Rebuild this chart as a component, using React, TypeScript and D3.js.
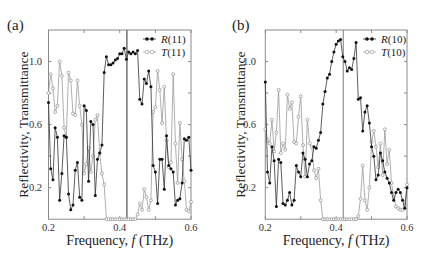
import React from "react";
import * as d3 from "d3";

const FREQ = [0.2,0.20625,0.2125,0.21875,0.225,0.23125,0.2375,0.24375,0.25,0.25625,0.2625,0.26875,0.275,0.28125,0.2875,0.29375,0.3,0.30625,0.3125,0.31875,0.325,0.33125,0.3375,0.34375,0.35,0.35625,0.3625,0.36875,0.375,0.38125,0.3875,0.39375,0.4,0.40625,0.4125,0.41875,0.425,0.43125,0.4375,0.44375,0.45,0.45625,0.4625,0.46875,0.475,0.48125,0.4875,0.49375,0.5,0.50625,0.5125,0.51875,0.525,0.53125,0.5375,0.54375,0.55,0.55625,0.5625,0.56875,0.575,0.58125,0.5875,0.59375,0.6];

const R11 = [0.74,0.32,0.25,0.58,0.52,0.12,0.29,0.53,0.52,0.16,
  0.06,0.09,0.31,0.36,0.14,0.12,0.72,0.69,0.24,0.62,
  0.60,0.15,0.38,0.42,0.47,0.93,1.03,0.98,0.98,0.99,
  1.01,1.02,1.05,1.05,1.085,1.015,1.06,1.05,1.06,1.05,
  1.07,0.76,0.73,0.89,0.86,0.94,0.84,0.34,0.30,0.10,
  0.38,0.38,0.19,0.53,0.34,0.32,0.30,0.09,0.12,0.13,
  0.23,0.51,0.50,0.52,0.31];
const T11 = [0.80,0.92,0.83,0.68,0.72,1.0,0.91,0.58,0.52,0.93,
  0.88,0.67,0.66,0.88,0.72,0.60,0.29,0.35,0.45,0.30,
  0.40,0.63,0.66,0.42,0.29,0.22,0,0,0,0,
  0,0,0,0,0,0,0,0,0,0,
  0.03,0.10,0.06,0.19,0.14,0.06,0.12,0.68,0.71,0.94,
  0.82,0.61,0.84,0.50,0.33,0.36,0.92,0.48,0.23,0.61,
  0.38,0.24,0.06,0.05,0.11];
const R10 = [0.87,0.30,0.23,0.46,0.37,0.08,0.38,0.36,0.10,0.09,
  0.12,0.17,0.09,0.12,0.34,0.30,0.27,0.42,0.38,0.27,
  0.35,0.37,0.46,0.45,0.50,0.55,0.73,0.81,0.895,0.92,
  1.0,1.06,1.11,1.13,1.14,1.03,1.0,0.94,0.96,0.95,
  1.02,1.12,0.76,0.77,0.56,0.68,0.72,0.61,0.46,0.40,
  0.25,0.28,0.42,0.37,0.30,0.26,0.23,0.17,0.12,0.17,
  0.19,0.17,0.12,0.07,0.20];
const T10 = [0.57,0.50,0.48,0.63,0.43,0.55,0.82,0.42,0.48,0.44,
  0.79,0.70,0.74,0.49,0.48,0.65,0.78,0.47,0.27,0.63,
  0.48,0.46,0.31,0.26,0.32,0.12,0,0,0,0,
  0,0,0,0,0,0,0,0,0,0,
  0,0,0.02,0.13,0.34,0.12,0.06,0.20,0.49,0.56,
  0.46,0.33,0.48,0.28,0.57,0.35,0.44,0.23,0.14,0.08,
  0.07,0.06,0.06,0.09,0.22];

const X_TICKS = [0.2, 0.3, 0.4, 0.5, 0.6];
const X_LABELS = [0.2, 0.4, 0.6];
const Y_TICKS = [0.2, 0.4, 0.6, 0.8, 1.0];
const Y_LABELS = [0.2, 0.6, 1.0];
const MARK_F = 0.42;

const FONT = "Liberation Serif, Times New Roman, DejaVu Serif, serif";

type PanelProps = {
  x0: number; x1: number; tag: string; R: number[]; T: number[]; rName: string; tName: string;
  tagX: number; titleX: number; labelEnd: number; legX: number; markW: number;
};

function Panel({ x0, x1, tag, R, T, rName, tName, tagX, titleX, labelEnd, legX, markW }: PanelProps) {
  const yTop = 30, yBot = 219.2;
  const x = d3.scaleLinear().domain([0.2, 0.6]).range([x0, x1]);
  const y = d3.scaleLinear().domain([0, 1.2]).range([yBot, yTop]);
  const line = d3.line<number>().x((_, i) => x(FREQ[i])).y((d) => y(d));
  const cx = (x0 + x1) / 2;
  const ts = { fontFamily: FONT };
  return (
    <g>
      <text x={tagX} y={30} style={ts} fontSize={15} fill="#222">{tag}</text>
      <rect x={x0} y={yTop} width={x1 - x0} height={yBot - yTop} fill="none" stroke="#8a8a8a" strokeWidth={1} />
      {X_TICKS.map((t) => (
        <g key={"xt" + t}>
          <line x1={x(t)} x2={x(t)} y1={yBot} y2={yBot - 3} stroke="#8a8a8a" />
          <line x1={x(t)} x2={x(t)} y1={yTop} y2={yTop + 3} stroke="#8a8a8a" />
        </g>
      ))}
      {Y_TICKS.map((t) => (
        <g key={"yt" + t}>
          <line x1={x0} x2={x0 + 3} y1={y(t)} y2={y(t)} stroke="#8a8a8a" />
          <line x1={x1} x2={x1 - 3} y1={y(t)} y2={y(t)} stroke="#8a8a8a" />
        </g>
      ))}
      {X_LABELS.map((t) => (
        <text key={"xl" + t} x={x(t)} y={231} textAnchor="middle" style={ts} fontSize={10.5} fill="#333">{t.toFixed(1)}</text>
      ))}
      {Y_LABELS.map((t) => (
        <text key={"yl" + t} x={labelEnd} y={y(t) + 3.5} textAnchor="end" style={ts} fontSize={10.5} fill="#333">{t.toFixed(1)}</text>
      ))}
      <line x1={x(MARK_F)} x2={x(MARK_F)} y1={yTop} y2={yBot} stroke="#7a7a7a" strokeWidth={markW} />
      <path d={line(T) || ""} fill="none" stroke="#9a9a9a" strokeWidth={0.8} />
      {T.map((v, i) => (
        <circle key={"t" + i} cx={x(FREQ[i])} cy={y(v)} r={1.5} fill="#fff" stroke="#8c8c8c" strokeWidth={0.7} />
      ))}
      <path d={line(R) || ""} fill="none" stroke="#333" strokeWidth={0.8} />
      {R.map((v, i) => (
        <circle key={"r" + i} cx={x(FREQ[i])} cy={y(v)} r={1.5} fill="#111" />
      ))}
      <g>
        <line x1={legX - 2} x2={legX + 11} y1={39} y2={39} stroke="#333" strokeWidth={0.8} />
        <circle cx={legX + 2} cy={39} r={1.8} fill="#111" />
        <circle cx={legX + 7} cy={39} r={1.8} fill="#111" />
        <text x={legX + 16} y={42.5} style={ts} fontSize={11} fill="#222">
          <tspan fontStyle="italic">R</tspan>{rName}
        </text>
        <line x1={legX - 2} x2={legX + 11} y1={52} y2={52} stroke="#aaa" strokeWidth={0.8} />
        <circle cx={legX + 2} cy={52} r={1.8} fill="#fff" stroke="#999" strokeWidth={0.7} />
        <circle cx={legX + 7} cy={52} r={1.8} fill="#fff" stroke="#999" strokeWidth={0.7} />
        <text x={legX + 16} y={55.5} style={ts} fontSize={11} fill="#222">
          <tspan fontStyle="italic">T</tspan>{tName}
        </text>
      </g>
      <text transform={`translate(${titleX},${(yTop + yBot) / 2}) rotate(-90)`} textAnchor="middle" style={ts} fontSize={13.5} fill="#222">
        Reflectivity, Transmittance
      </text>
      <text x={cx} y={244.5} textAnchor="middle" style={ts} fontSize={14} fill="#222">
        Frequency, <tspan fontStyle="italic">f</tspan> (THz)
      </text>
    </g>
  );
}

export default function App() {
  return (
    <svg width={425} height={253} style={{ position: "absolute", left: 0, top: 0, background: "#fff" }}>
      <rect x={0} y={0} width={425} height={253} fill="#fff" />
      <Panel x0={48.5} x1={191} tag="(a)" R={R11} T={T11} rName="(11)" tName="(11)"
        tagX={7} titleX={28} labelEnd={42} legX={145} markW={1.6} />
      <Panel x0={265.3} x1={407} tag="(b)" R={R10} T={T10} rName="(10)" tName="(10)"
        tagX={232} titleX={245} labelEnd={256} legX={365} markW={1} />
    </svg>
  );
}
